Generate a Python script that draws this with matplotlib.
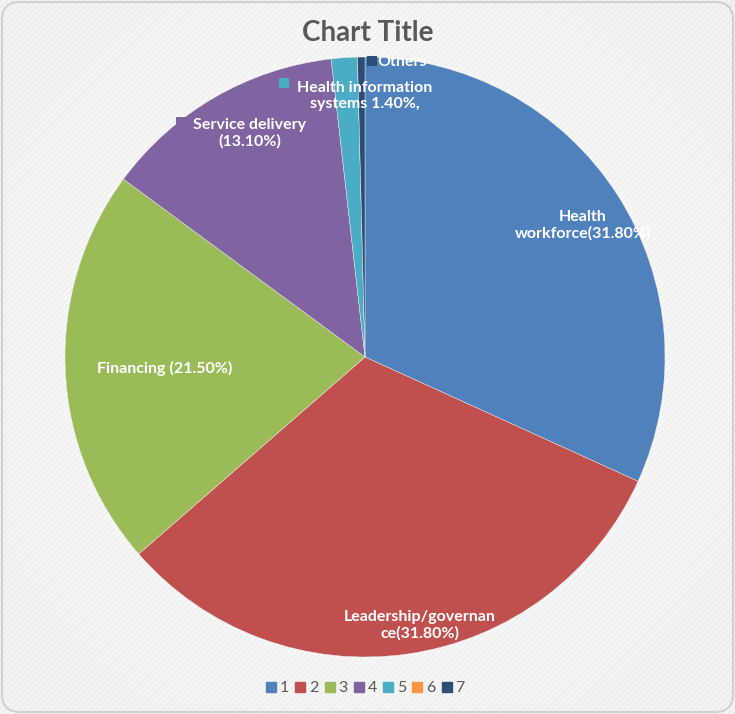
import matplotlib.pyplot as plt
import matplotlib.patches as patches
from matplotlib.lines import Line2D
import numpy as np

plt.rcParams['font.family'] = ['Lato', 'DejaVu Sans']

# data
categories = ['1', '2', '3', '4', '5', '6', '7']
shares = [31.8, 31.8, 21.5, 13.1, 1.4, 0.0, 0.4]
slice_labels = ['Health\nworkforce(31.80%)', 'Leadership/governan\nce(31.80%)',
                'Financing (21.50%)', 'Service delivery\n(13.10%)',
                'Health information\nsystems 1.40%,', '', 'Others']
colors = ['#4F81BD', '#C0504D', '#9BBB59', '#8064A2', '#4BACC6', '#F79646', '#2C4D75']

W, H = 735, 714
fig = plt.figure(figsize=(W / 100, H / 100), dpi=100)

# background: soft radial glow with faint diagonal stripes
bg = fig.add_axes([0, 0, 1, 1])
yy, xx = np.mgrid[0:H, 0:W]
r = np.hypot((xx - 365) / 420, (yy - 357) / 420)
shade = 0.99 - 0.035 * np.clip(r, 0, 1) ** 1.5
stripes = ((xx + yy) % 6 < 2) * 0.03 * np.clip(r * 1.3, 0, 1)
img = np.clip(shade - stripes, 0, 1)
bg.imshow(np.dstack([img] * 3), extent=[0, W, H, 0], aspect='auto')
bg.set_xlim(0, W)
bg.set_ylim(H, 0)
bg.axis('off')
border = patches.FancyBboxPatch((2, 2), W - 4, H - 4,
                                boxstyle='round,pad=0,rounding_size=18',
                                facecolor='none', edgecolor='#D0D0D0', lw=1.5)
bg.add_patch(border)

# pie
cx, cy, R = 365, 357, 300
ax = fig.add_axes([(cx - R) / W, (H - cy - R) / H, 2 * R / W, 2 * R / H])
wedges, _ = ax.pie(shares, colors=colors, startangle=90, counterclock=False,
                   radius=1, wedgeprops=dict(linewidth=0.3, edgecolor='#F0F0F0'))
ax.set_xlim(-1, 1)
ax.set_ylim(-1, 1)
ax.set_aspect('equal')
ax.axis('off')


def px(x, y):
    return (x - cx) / R, (cy - y) / R


# label anchor positions (pixels), and key squares for some labels
label_pos = {0: (583, 225), 1: (420, 625), 2: (165, 368), 3: (250, 133),
             4: (365, 96), 6: (402, 62)}
key_pos = {3: (181, 122), 4: (284, 83), 6: (372, 61)}

txt = dict(color='white', fontsize=11.5, fontweight='bold',
           ha='center', va='center', linespacing=1.2)
for i, (x, y) in label_pos.items():
    ax.text(*px(x, y), slice_labels[i], **txt)
for i, (x, y) in key_pos.items():
    ax.plot(*px(x, y), marker='s', ms=6.5, color=colors[i], mew=0,
            clip_on=False)

fig.text(368 / W, 1 - 33 / H, 'Chart Title', ha='center', va='center',
         fontsize=20, fontweight='bold', color='#595959')

handles = [Line2D([], [], marker='s', ls='', ms=6.5, color=c) for c in colors]
fig.legend(handles, categories, loc='center', bbox_to_anchor=(366 / W, 1 - 688 / H),
           ncol=7, frameon=False, fontsize=11.5, handlelength=0.5,
           handletextpad=0.3, columnspacing=0.45, labelcolor='#595959')

fig.savefig('out.png', dpi=100)
